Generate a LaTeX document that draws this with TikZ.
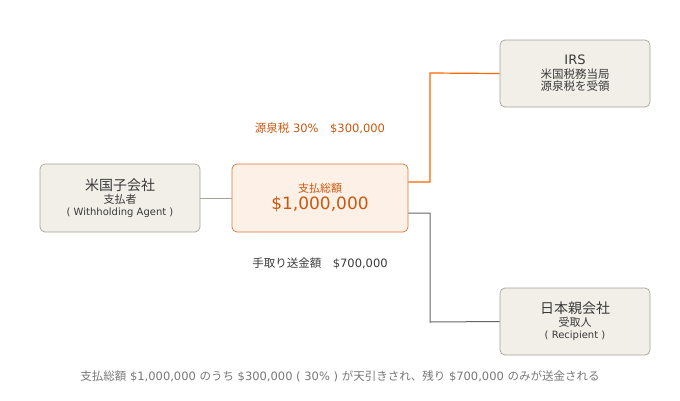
\documentclass[tikz,border=0pt]{standalone}
\usepackage{fontspec}
\setmainfont{DejaVu Sans}
\newfontfamily\jp{Noto Sans CJK JP}
\begin{document}
\begin{tikzpicture}[x=1pt,y=-1pt,
  box/.style={draw=#1,rounded corners=5pt,line width=0.7pt,align=center,inner sep=0pt},
  gline/.style={draw=gray!80!black,line width=1pt},
  oline/.style={draw=orange!80!red,line width=1.2pt}]
\definecolor{boxfill}{HTML}{F2EFE8}
\definecolor{boxline}{HTML}{A8A296}
\definecolor{orfill}{HTML}{FDF0E6}
\definecolor{orline}{HTML}{D9743A}
\definecolor{ortext}{HTML}{C8580F}
\definecolor{dtext}{HTML}{3A3A3A}
\definecolor{gtext}{HTML}{777777}
\useasboundingbox (0,0) rectangle (680,400);
\node[box=boxline,fill=boxfill,minimum width=160pt,minimum height=68pt] (us) at (120,198)
 {{\fontsize{14}{16}\selectfont\color{dtext}\jp 米国子会社}\\[1pt]{\fontsize{11}{13}\selectfont\color{dtext}\jp 支払者}\\{\fontsize{10}{13}\selectfont\color{dtext}( Withholding Agent )}};
\node[box=orline,fill=orfill,minimum width=176pt,minimum height=68pt] (tot) at (320,198)
 {{\fontsize{11}{13}\selectfont\color{ortext}\jp 支払総額}\\[2pt]{\fontsize{17}{19}\selectfont\color{ortext}\$1,000,000}};
\node[box=boxline,fill=boxfill,minimum width=150pt,minimum height=67pt] (irs) at (575,73.5)
 {{\fontsize{13}{15}\selectfont\color{dtext}IRS}\\[2pt]{\fontsize{11.5}{13}\selectfont\color{dtext}\jp 米国税務当局}\\{\fontsize{11.5}{13}\selectfont\color{dtext}\jp 源泉税を受領}};
\node[box=boxline,fill=boxfill,minimum width=150pt,minimum height=67pt] (jp) at (575,321.5)
 {{\fontsize{14}{16}\selectfont\color{dtext}\jp 日本親会社}\\[1pt]{\fontsize{11}{13}\selectfont\color{dtext}\jp 受取人}\\{\fontsize{10}{13}\selectfont\color{dtext}( Recipient )}};
\draw[draw=boxline,line width=1pt] (us.east) -- (tot.west);
\draw[oline] ([yshift=16pt]tot.east) -| (430,73) -- (irs.west);
\draw[gline] ([yshift=-15pt]tot.east) -| (430,322) -- (jp.west);
\node[text=ortext,font=\fontsize{11.5}{13}\selectfont] (wt) at (320,128) {{\jp 源泉税} 30\%\quad\$300,000};
\node[text=dtext,font=\fontsize{11.5}{13}\selectfont] (net) at (320,264) {{\jp 手取り送金額}\quad\$700,000};
\node[text=gtext,font=\fontsize{11.5}{13}\selectfont] (cap) at (340,376) {{\jp 支払総額} \$1,000,000 {\jp のうち} \$300,000 ( 30\% ) {\jp が天引きされ、残り} \$700,000 {\jp のみが送金される}};
\end{tikzpicture}
\end{document}
